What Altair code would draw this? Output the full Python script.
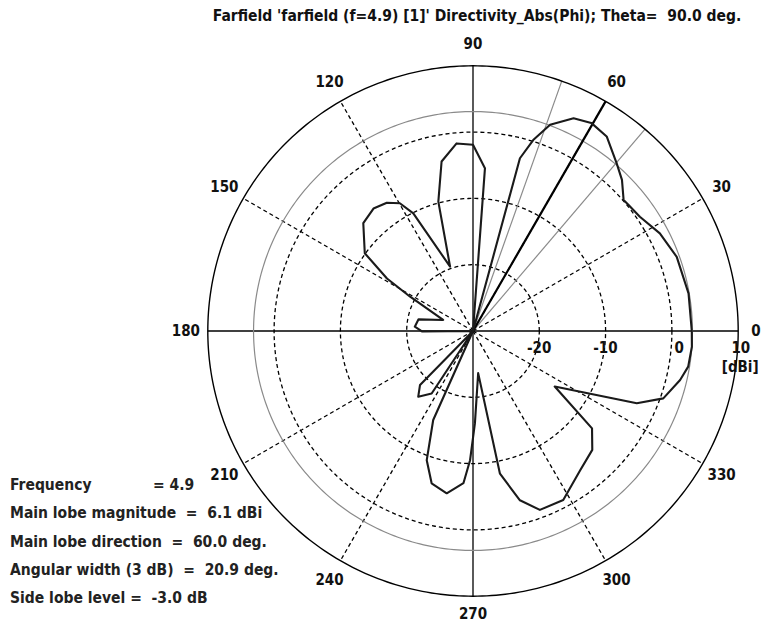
import altair as alt
import numpy as np
import pandas as pd

# ---------------- data ----------------
title_text = "Farfield 'farfield (f=4.9) [1]' Directivity_Abs(Phi); Theta=\u00a0\u00a090.0 deg."

# directivity pattern (phi in degrees, directivity in dBi)
phi_deg = [0, 9.9, 20, 27.6, 34.4, 39, 41, 45.4, 49.4, 55.5, 60.4, 64.7, 69.5, 72.5,
           74.8, 80, 85.8, 90, 95, 100.5, 105, 109.6, 116.9, 119.8, 123.9, 129.1,
           135.5, 144.3, 148.6, 151.4, 159.7, 167.9, 175.8, 180.4, 185, 220, 225.5,
           230.2, 236.5, 240, 245.9, 250.3, 254.8, 260.8, 266.4, 268.7, 271.2, 277,
           280.7, 285.5, 290.5, 298.1, 307.6, 315.1, 320.7, 325.8, 336.2, 340.5,
           346.7, 350.6, 355.9, 360]
dir_dbi = [3.0, 3.0, 2.7, 1.8, 0.5, 0.2, 0.1, 2.0, 3.3, 5.6, 6.1, 5.5, 3.2, 0.2,
           -3.0, -31.0, -5.4, -1.9, -1.6, -4.0, -9.8, -19.7, -10.1, -7.8, -6.7, -6.2,
           -6.8, -9.9, -14.8, -19.2, -25.2, -21.6, -21.2, -22.3, -31.0, -31.0, -18.6,
           -17.1, -18.7, -31.0, -15.3, -9.3, -6.2, -5.2, -7.0, -10.5, -16.1, -23.6,
           -8.1, -3.5, -1.2, -1.1, -3.5, -4.6, -6.8, -15.1, -3.0, 0.45,
           2.1, 2.9, 3.1, 3.0]

main_lobe_dir = 60.0
main_lobe_mag = 6.1
angular_width = 20.9

grid_db = [-20, -10, 0]          # dashed rings
outer_db = 10                    # outer ring
r_min_db = -30                   # plot centre
dashed_spokes = [30, 60, 120, 150, 210, 240, 300, 330]
solid_axes = [0, 90, 180, 270]
angle_labels = [0, 30, 60, 90, 120, 150, 180, 210, 240, 270, 300, 330]
db_labels = [-20, -10, 0, 10]

info_lines = ["Frequency", "Main lobe magnitude\u00a0\u00a0=\u00a0\u00a06.1 dBi",
              "Main lobe direction\u00a0\u00a0=\u00a0\u00a060.0 deg.",
              "Angular width (3 dB)\u00a0\u00a0=\u00a0\u00a020.9 deg.",
              "Side lobe level =\u00a0\u00a0-3.0 dB"]
freq_value = "= 4.9"

# ---------------- layout ----------------
W, H = 754, 614
S = 6.63                 # pixels per dB
CX, CY = 465, 323        # centre of the polar plot inside the chart
xs = alt.Scale(domain=[-CX / S, (W - CX) / S], nice=False, zero=False)
ys = alt.Scale(domain=[-(H - CY) / S, CY / S], nice=False, zero=False)
FONT = "DejaVu Sans Condensed, Liberation Sans Narrow, Liberation Sans, sans-serif"
XMAX = (W - CX - 6) / S
YMIN = -(H - CY - 8) / S


def polar(chart):
    return chart.transform_calculate(
        r=f"max(datum.db - ({r_min_db}), 0)"
    ).transform_calculate(
        x="datum.r * cos(datum.phi * PI / 180)",
        y="datum.r * sin(datum.phi * PI / 180)",
    )


X = alt.X("x:Q", scale=xs, axis=None)
Y = alt.Y("y:Q", scale=ys, axis=None)

ring_phi = np.arange(0, 361, 1)


def ring_df(levels):
    rows = []
    for lv in levels:
        for i, p in enumerate(ring_phi):
            rows.append({"ring": str(lv), "phi": float(p), "db": lv, "ord": i})
    return pd.DataFrame(rows)


def spoke_df(angles):
    rows = []
    for a in angles:
        rows.append({"id": str(a), "phi": a, "db": r_min_db, "ord": 0})
        rows.append({"id": str(a), "phi": a, "db": outer_db, "ord": 1})
    return pd.DataFrame(rows)


dashed_rings = polar(alt.Chart(ring_df(grid_db)).mark_line(
    color="black", strokeWidth=1.3, strokeDash=[4, 3])).encode(
    x=X, y=Y, detail="ring:N", order="ord:Q")

outer_ring = polar(alt.Chart(ring_df([outer_db])).mark_line(
    color="black", strokeWidth=1.4)).encode(
    x=X, y=Y, detail="ring:N", order="ord:Q")

grey_ring = polar(alt.Chart(ring_df([round(main_lobe_mag - 3.0, 1)])).mark_line(
    color="#8a8a8a", strokeWidth=1.2)).encode(
    x=X, y=Y, detail="ring:N", order="ord:Q")

dashed_sp = polar(alt.Chart(spoke_df(dashed_spokes)).mark_line(
    color="black", strokeWidth=1.3, strokeDash=[4, 3])).encode(
    x=X, y=Y, detail="id:N", order="ord:Q")

solid_sp = polar(alt.Chart(spoke_df(solid_axes)).mark_line(
    color="black", strokeWidth=1.3)).encode(
    x=X, y=Y, detail="id:N", order="ord:Q")

beam_edges = [main_lobe_dir - angular_width / 2, main_lobe_dir + angular_width / 2]
grey_sp = polar(alt.Chart(spoke_df(beam_edges)).mark_line(
    color="#8a8a8a", strokeWidth=1.2)).encode(
    x=X, y=Y, detail="id:N", order="ord:Q")

main_sp = polar(alt.Chart(spoke_df([main_lobe_dir])).mark_line(
    color="black", strokeWidth=2.2)).encode(
    x=X, y=Y, detail="id:N", order="ord:Q")

pat_df = pd.DataFrame({"phi": phi_deg, "db": dir_dbi, "ord": range(len(phi_deg))})
pattern = polar(alt.Chart(pat_df).mark_line(
    color="#1a1a1a", strokeWidth=2.1, strokeJoin="round")).encode(
    x=X, y=Y, order="ord:Q")

# angle labels
ang_df = pd.DataFrame({"phi": angle_labels, "label": [str(a) for a in angle_labels]})
ang_text = alt.Chart(ang_df).transform_calculate(
    x=f"min(43.3 * cos(datum.phi * PI / 180), {XMAX})",
    y=f"max(43.3 * sin(datum.phi * PI / 180), {YMIN})",
).mark_text(font=FONT, fontSize=15, fontWeight="bold", color="#111",
            align="center", baseline="middle").encode(x=X, y=Y, text="label:N")

dbl_df = pd.DataFrame({"db": db_labels, "phi": [0] * len(db_labels),
                       "label": [str(d) for d in db_labels]})
db_text = polar(alt.Chart(dbl_df).mark_text(
    font=FONT, fontSize=15, fontWeight="bold", color="#111",
    align="right", baseline="middle", dx=12, dy=17)).encode(x=X, y=Y, text="label:N")

unit_df = pd.DataFrame({"db": [outer_db], "phi": [0], "label": ["[dBi]"]})
unit_text = polar(alt.Chart(unit_df).mark_text(
    font=FONT, fontSize=15, fontWeight="bold", color="#111",
    align="center", baseline="middle", dx=2, dy=36)).encode(x=X, y=Y, text="label:N")

# title and info block (pixel placement)
title = alt.Chart(pd.DataFrame({"t": [title_text]})).mark_text(
    font=FONT, fontSize=15.5, fontWeight="bold", color="#111",
    align="center", baseline="middle").encode(
    x=alt.value(469), y=alt.value(8), text="t:N")

info_df = pd.DataFrame({"t": info_lines, "row": range(len(info_lines))})
info = alt.Chart(info_df).transform_calculate(
    py="477 + 28.3 * datum.row").mark_text(
    font=FONT, fontSize=15.5, fontWeight="bold", color="#222",
    align="left", baseline="middle").encode(
    x=alt.value(2), y=alt.Y("py:Q", scale=None), text="t:N")

freq = alt.Chart(pd.DataFrame({"t": [freq_value]})).mark_text(
    font=FONT, fontSize=15.5, fontWeight="bold", color="#222",
    align="left", baseline="middle").encode(
    x=alt.value(145), y=alt.value(477), text="t:N")

chart = alt.layer(
    dashed_rings, dashed_sp, solid_sp, grey_ring, grey_sp, main_sp, pattern,
    outer_ring, ang_text, db_text, unit_text, title, info, freq
).properties(
    width=W, height=H, padding=0, autosize=alt.AutoSizeParams(type="none"),
    background="white"
).configure_view(stroke=None)

chart.save("out.html", embed_options={"renderer": "svg", "actions": False})
